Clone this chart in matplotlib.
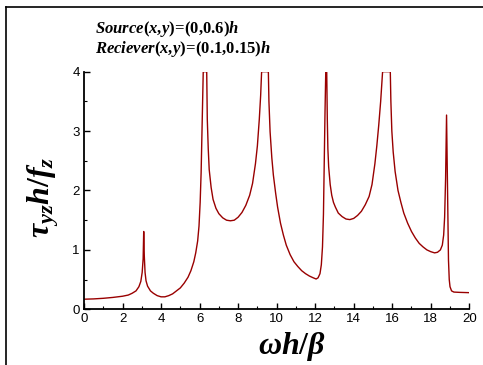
import matplotlib
matplotlib.use("Agg")
import matplotlib.pyplot as plt
from matplotlib.lines import Line2D

plt.rcParams['mathtext.fontset'] = 'custom'
plt.rcParams['mathtext.rm'] = 'Liberation Serif:bold'
plt.rcParams['mathtext.it'] = 'Liberation Serif:italic:bold'
plt.rcParams['mathtext.bf'] = 'Liberation Serif:bold'
plt.rcParams['font.family'] = 'Liberation Sans'

# frequency (omega h / beta) and normalised stress
freq = [0.0, 0.5, 1.0, 1.5, 2.0, 2.3, 2.5, 2.7, 2.85, 2.95, 3.02, 3.07, 3.10,
        3.13, 3.17, 3.22, 3.3, 3.45, 3.6, 3.8, 4.0, 4.2, 4.4, 4.6, 4.8, 5.0,
        5.2, 5.4, 5.55, 5.7, 5.8, 5.9, 5.97, 6.03, 6.08, 6.12, 6.16, 6.19,
        6.37, 6.40, 6.45, 6.5, 6.6, 6.7, 6.85, 7.0, 7.2, 7.4, 7.6, 7.8, 8.0,
        8.2, 8.4, 8.6, 8.75, 8.9, 9.0, 9.1, 9.17, 9.22,
        9.57, 9.60, 9.66, 9.75, 9.83, 9.95, 10.05, 10.2, 10.35, 10.5, 10.7,
        10.9, 11.1, 11.3, 11.5, 11.7, 11.9, 12.05, 12.15, 12.25, 12.32, 12.38,
        12.43, 12.47, 12.51, 12.55, 12.60, 12.63, 12.66, 12.7, 12.78, 12.86,
        12.95, 13.05, 13.2, 13.4, 13.6, 13.8, 14.0, 14.2, 14.4, 14.6, 14.8,
        14.95, 15.1, 15.2, 15.3, 15.4, 15.5,
        15.9, 15.93, 15.98, 16.05, 16.15, 16.3, 16.45, 16.6, 16.8, 17.0, 17.2,
        17.4, 17.6, 17.8, 18.0, 18.2, 18.35, 18.5, 18.6, 18.67, 18.72, 18.77,
        18.82, 18.85, 18.88, 18.92, 18.96, 19.0, 19.08, 19.2, 19.5, 20.0]
stress = [0.17, 0.175, 0.185, 0.20, 0.22, 0.24, 0.27, 0.31, 0.38, 0.47, 0.62,
          0.85, 1.31, 0.90, 0.62, 0.48, 0.39, 0.31, 0.27, 0.23, 0.21, 0.21,
          0.23, 0.26, 0.31, 0.36, 0.44, 0.54, 0.65, 0.80, 0.95, 1.15, 1.40,
          1.80, 2.30, 2.90, 3.50, 4.0,
          4.0, 3.20, 2.70, 2.35, 2.05, 1.85, 1.70, 1.61, 1.54, 1.50, 1.49,
          1.50, 1.55, 1.63, 1.75, 1.92, 2.12, 2.45, 2.75, 3.20, 3.60, 4.0,
          4.0, 3.50, 2.99, 2.55, 2.26, 1.95, 1.72, 1.45, 1.25, 1.08, 0.92,
          0.80, 0.72, 0.65, 0.60, 0.56, 0.53, 0.51, 0.53, 0.60, 0.75, 1.05,
          1.60, 2.50, 3.30, 4.0, 4.0, 3.20, 2.70, 2.40, 2.10, 1.92,
          1.80, 1.72, 1.62, 1.56, 1.52, 1.51, 1.53, 1.58, 1.65, 1.76, 1.90,
          2.10, 2.45, 2.75, 3.10, 3.50, 4.0,
          4.0, 3.50, 3.00, 2.65, 2.32, 2.00, 1.80, 1.62, 1.45, 1.31, 1.20,
          1.11, 1.05, 1.00, 0.97, 0.95, 0.96, 1.00, 1.08, 1.25, 1.55, 2.20,
          3.27, 2.50, 1.60, 0.83, 0.50, 0.38, 0.31, 0.29, 0.285, 0.28]

xticks = [0, 2, 4, 6, 8, 10, 12, 14, 16, 18, 20]
yticks = [0, 1, 2, 3, 4]

fig = plt.figure(figsize=(4.83, 3.65), dpi=100)
ax = fig.add_axes([0.1739, 0.1526, 0.7977, 0.651])

ax.plot(freq, stress, color='#990000', lw=1.0)

ax.set_xlim(0, 20)
ax.set_ylim(0, 4)
ax.set_xticks(xticks)
ax.set_yticks(yticks)
ax.set_xticks(range(1, 20, 2), minor=True)
ax.set_yticks([0.5, 1.5, 2.5, 3.5], minor=True)
ax.tick_params(which='major', direction='in', length=4.5, width=1, labelsize=9.5, pad=3)
ax.tick_params(which='minor', direction='in', length=2.5, width=0.8)
ax.spines['top'].set_visible(False)
ax.spines['right'].set_visible(False)
ax.spines['left'].set_linewidth(1.3)
ax.spines['bottom'].set_linewidth(1.3)

ax.set_xlabel(r'$\omega h/\beta$', fontsize=23)
ax.xaxis.set_label_coords(0.54, -0.088)
ax.set_ylabel(r'$\tau_{yz}h/f_z$', fontsize=23)
ax.yaxis.set_label_coords(-0.06, 0.47)

fig.text(0.197, 0.921, r'$Source\mathrm{(}x{,}y\mathrm{)}\!=\!\mathrm{(0{,}0.6)}h$',
         fontsize=12, va='center', ha='left')
fig.text(0.197, 0.866, r'$Reciever\mathrm{(}x{,}y\mathrm{)}\!=\!\mathrm{(0.1{,}0.15)}h$',
         fontsize=12, va='center', ha='left')

# outer frame
fig.add_artist(Line2D([0.0124, 0.0124], [0.0, 0.981], color='black', lw=1.2,
                      transform=fig.transFigure))
fig.add_artist(Line2D([0.0124, 1.0], [0.981, 0.981], color='black', lw=1.2,
                      transform=fig.transFigure))

fig.savefig('out.png', dpi=100)
